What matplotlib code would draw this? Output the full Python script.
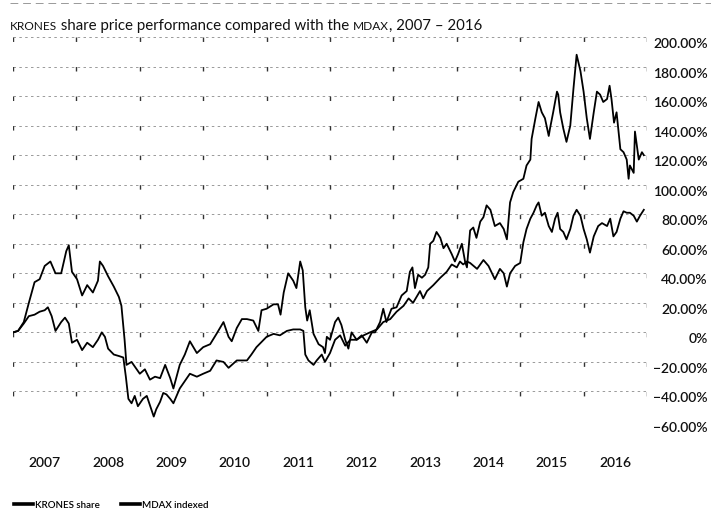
import matplotlib
matplotlib.use("Agg")
import matplotlib.pyplot as plt
import matplotlib.transforms as mtransforms

plt.rcParams['font.family'] = ['Lato', 'DejaVu Sans']

# ---------------- data (fractional year, % change) ----------------
krones_t = [2007.00, 2007.08, 2007.17, 2007.25, 2007.34, 2007.42, 2007.50, 2007.59, 2007.67, 2007.76,
            2007.84, 2007.88, 2007.93, 2008.01, 2008.09, 2008.17, 2008.26, 2008.34, 2008.37, 2008.42,
            2008.50, 2008.59, 2008.67, 2008.71, 2008.76, 2008.79, 2008.87, 2008.95, 2009.00, 2009.08,
            2009.16, 2009.24, 2009.32, 2009.40, 2009.48, 2009.53, 2009.63, 2009.71, 2009.79, 2009.90,
            2010.00, 2010.11, 2010.21, 2010.32, 2010.40, 2010.45, 2010.53, 2010.61, 2010.69, 2010.79,
            2010.87, 2010.92, 2011.00, 2011.11, 2011.18, 2011.22, 2011.27, 2011.34, 2011.42, 2011.47,
            2011.53, 2011.57, 2011.61, 2011.64, 2011.68, 2011.74, 2011.82, 2011.89, 2011.92, 2011.95,
            2012.00, 2012.08, 2012.13, 2012.18, 2012.24, 2012.29, 2012.34, 2012.42, 2012.50, 2012.58,
            2012.66, 2012.71, 2012.79, 2012.84, 2012.89, 2012.97, 2013.05, 2013.13, 2013.21, 2013.26,
            2013.30, 2013.34, 2013.39, 2013.45, 2013.50, 2013.55, 2013.58, 2013.63, 2013.68, 2013.74,
            2013.79, 2013.84, 2013.92, 2013.97, 2014.02, 2014.08, 2014.13, 2014.16, 2014.21, 2014.26,
            2014.31, 2014.37, 2014.42, 2014.47, 2014.53, 2014.60, 2014.68, 2014.74, 2014.79, 2014.84,
            2014.89, 2014.97, 2015.05, 2015.10, 2015.16, 2015.18, 2015.24, 2015.29, 2015.34, 2015.39,
            2015.45, 2015.47, 2015.52, 2015.58, 2015.60, 2015.63, 2015.68, 2015.73, 2015.79, 2015.84,
            2015.89, 2015.95, 2016.00, 2016.05, 2016.10, 2016.16, 2016.21, 2016.26, 2016.31, 2016.37,
            2016.41, 2016.44, 2016.48, 2016.52, 2016.58, 2016.63, 2016.68, 2016.71, 2016.73, 2016.79,
            2016.81, 2016.87, 2016.92, 2016.95]
krones_v = [0, 1, 7, 20, 34, 36, 45, 48, 40, 40,
            55, 59, 41, 36, 25, 32, 27, 35, 48, 45,
            38, 31, 24, 18, -5, -22, -20, -25, -28, -25,
            -32, -30, -31, -22, -31, -38, -22, -15, -6, -14,
            -10, -8, -1, 7, -3, -6, 3, 9, 9, 8,
            1, 15, 16, 19, 19, 12, 27, 40, 35, 30,
            48, 42, 17, 8, 15, -1, -8, -10, -14, -3,
            -5, 7, 10, 5, -5, -11, 0, -5, -2, -7,
            0, 0, 7, 16, 7, 16, 17, 25, 28, 41,
            44, 30, 39, 37, 39, 44, 60, 62, 68, 64,
            57, 60, 53, 48, 53, 60, 48, 44, 69, 71,
            64, 75, 78, 86, 83, 72, 74, 70, 63, 88,
            95, 102, 104, 113, 117, 131, 145, 156, 149, 145,
            133, 138, 149, 163, 161, 149, 138, 129, 140, 165,
            188, 177, 163, 145, 131, 149, 163, 161, 156, 158,
            167, 158, 142, 149, 124, 122, 117, 104, 113, 108,
            136, 117, 122, 120]

mdax_t = [2007.00, 2007.08, 2007.17, 2007.25, 2007.34, 2007.42, 2007.50, 2007.55, 2007.61, 2007.67,
          2007.76, 2007.82, 2007.88, 2007.93, 2008.01, 2008.09, 2008.17, 2008.26, 2008.34, 2008.40,
          2008.45, 2008.50, 2008.59, 2008.67, 2008.74, 2008.78, 2008.82, 2008.87, 2008.92, 2008.97,
          2009.05, 2009.11, 2009.18, 2009.22, 2009.26, 2009.32, 2009.37, 2009.42, 2009.48, 2009.53,
          2009.63, 2009.71, 2009.79, 2009.90, 2010.00, 2010.11, 2010.21, 2010.32, 2010.40, 2010.53,
          2010.69, 2010.76, 2010.84, 2011.00, 2011.11, 2011.21, 2011.32, 2011.42, 2011.53, 2011.58,
          2011.61, 2011.66, 2011.74, 2011.79, 2011.87, 2011.92, 2012.00, 2012.08, 2012.16, 2012.24,
          2012.32, 2012.42, 2012.53, 2012.63, 2012.74, 2012.84, 2012.95, 2013.05, 2013.16, 2013.24,
          2013.31, 2013.42, 2013.47, 2013.53, 2013.63, 2013.74, 2013.84, 2013.92, 2014.00, 2014.05,
          2014.10, 2014.16, 2014.21, 2014.32, 2014.42, 2014.50, 2014.60, 2014.68, 2014.74, 2014.79,
          2014.84, 2014.92, 2015.00, 2015.05, 2015.10, 2015.16, 2015.21, 2015.26, 2015.29, 2015.34,
          2015.39, 2015.45, 2015.50, 2015.55, 2015.59, 2015.63, 2015.68, 2015.73, 2015.79, 2015.84,
          2015.89, 2015.95, 2016.00, 2016.05, 2016.10, 2016.16, 2016.23, 2016.29, 2016.37, 2016.42,
          2016.47, 2016.52, 2016.58, 2016.63, 2016.68, 2016.73, 2016.79, 2016.84, 2016.89, 2016.95]
mdax_v = [0, 1, 6, 11, 12, 14, 15, 17, 11, 1,
          7, 10, 6, -7, -5, -12, -7, -10, -5, 0,
          -3, -11, -15, -16, -17, -30, -45, -48, -43, -50,
          -45, -43, -52, -57, -52, -47, -41, -42, -45, -48,
          -38, -33, -28, -30, -28, -26, -19, -20, -24, -19,
          -19, -15, -10, -3, -1, -2, 1, 2, 2, 1,
          -15, -19, -22, -19, -15, -20, -14, -5, -2, -9,
          -5, -5, -2, 0, 2, 7, 9, 14, 18, 23,
          20, 28, 23, 28, 32, 37, 41, 46, 44, 48,
          46, 48, 47, 43, 49, 45, 36, 43, 40, 31,
          40, 45, 47, 61, 70, 77, 81, 86, 88, 79,
          81, 72, 68, 77, 81, 70, 68, 63, 70, 79,
          83, 79, 70, 63, 54, 65, 72, 74, 72, 77,
          65, 68, 77, 82, 81, 81, 79, 75, 79, 83]

years = [2007, 2008, 2009, 2010, 2011, 2012, 2013, 2014, 2015, 2016]
y_ticks = [200, 180, 160, 140, 120, 100, 80, 60, 40, 20, 0, -20, -40, -60]
y_labels = ["200.00%", "180.00%", "160.00%", "140.00%", "120.00%", "100.00%", "80.00%",
            "60.00%", "40.00%", "20.00%", "0%", "\u221220.00%", "\u221240.00%", "\u221260.00%"]
title_parts = [("KRONES", True), (" share price performance compared with the ", False),
               ("MDAX", True), (", 2007 \u2013 2016", False)]
series_labels = ["KRONES share", "MDAX indexed"]

# ---------------- figure ----------------
W, H = 711, 510
fig = plt.figure(figsize=(W / 100, H / 100), dpi=100)
fig.patch.set_facecolor("white")

left_px, right_px, top_px, bot_px = 13, 647, 38, 422
ax = fig.add_axes([left_px / W, 1 - bot_px / H, (right_px - left_px) / W, (bot_px - top_px) / H])
ax.set_xlim(years[0], years[-1] + 1)
ax.set_ylim(y_ticks[-1], y_ticks[0])
for s in ax.spines.values():
    s.set_visible(False)

# horizontal grid
for v in y_ticks:
    ax.axhline(v, color="#8a8a8a", lw=0.6, linestyle=(0, (3, 4)), zorder=1)
# year boundary marks (short ticks hanging below each grid line)
step_pt = (bot_px - top_px) / (len(y_ticks) - 1) * 72 / 100
for yb in years + [years[-1] + 1]:
    ax.plot([yb, yb], [y_ticks[0], y_ticks[-1]], color="#333333", lw=1.0,
            linestyle=(0, (3.2, step_pt - 3.2)), zorder=1)

l1, = ax.plot(krones_t, krones_v, color="black", lw=1.3, zorder=3, label=series_labels[0])
l2, = ax.plot(mdax_t, mdax_v, color="black", lw=1.3, zorder=3, label=series_labels[1])

# x labels centered in each year
ax.set_xticks([y + 0.5 for y in years])
ax.set_xticklabels([str(y) for y in years], fontsize=10, fontweight="semibold", color="#111111")
ax.tick_params(axis="x", length=0, pad=25)
ax.set_yticks([])

# y labels on the right
trans = mtransforms.blended_transform_factory(fig.transFigure, ax.transData) + \
    mtransforms.ScaledTranslation(0, -6 / 100, fig.dpi_scale_trans)
for v, lab in zip(y_ticks, y_labels):
    fig.text(708 / W, v, lab, transform=trans, ha="right", va="center",
             fontsize=10, fontweight="semibold", color="#111111")

# title with small caps parts
fig.canvas.draw()
renderer = fig.canvas.get_renderer()
x_px = 10
for txt, small in title_parts:
    t = fig.text(x_px / W, 1 - 30 / H, txt, fontsize=8.6 if small else 10.8,
                 ha="left", va="baseline", color="#111111")
    bb = t.get_window_extent(renderer)
    x_px += bb.width

# top rule
fig.add_artist(plt.Line2D([10 / W, 1.0], [1 - 4 / H, 1 - 4 / H], transform=fig.transFigure,
                          color="#999999", lw=0.7, linestyle=(0, (8, 5))))

leg = fig.legend(handles=[l1, l2], labels=series_labels, loc="lower left",
                 bbox_to_anchor=(0.008, -0.018), ncol=2, frameon=False,
                 prop={"size": 7, "weight": "semibold"},
                 handlelength=1.9, handletextpad=0.2, columnspacing=2.2)
for h in leg.legend_handles:
    h.set_linewidth(2.6)

fig.savefig("out.png", dpi=100)
